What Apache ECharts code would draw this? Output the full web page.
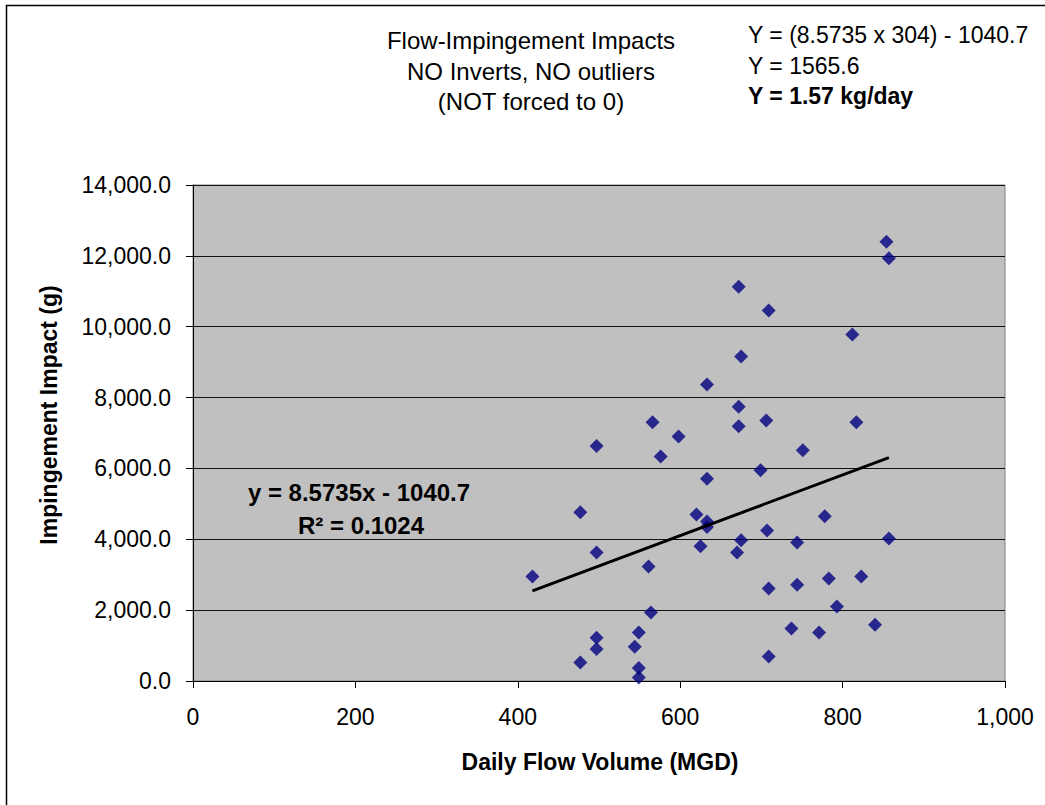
<!DOCTYPE html>
<html>
<head>
<meta charset="utf-8">
<script src="https://cdn.jsdelivr.net/npm/echarts@6/dist/echarts.min.js"></script>
<style>
html,body{margin:0;padding:0;background:#fff;}
#chart{width:1045px;height:805px;}
</style>
</head>
<body>
<div id="chart"></div>
<script>
// Daily flow volume (MGD)
const flowMGD = [418,477,477,497,497,497,497,544,549,549,549,561,564,566,576,598,620,625,633,633,633,633,670,672,672,672,675,675,699,706,707,709,709,709,737,744,744,751,771,778,783,793,812,817,823,840,854,857,857];
// Impingement impact (g)
const impactG = [2950,4760,520,6630,3630,1220,900,970,1370,370,100,3230,1930,7300,6340,6900,4700,3800,8370,5710,4500,4350,3630,11130,7740,7190,9160,3970,5950,7350,4250,10460,2610,690,1480,3910,2720,6510,1370,4650,2890,2100,9780,7300,2950,1590,12400,11930,4020];
// Linear trendline (as printed on chart)
const trendSlope = 8.5735;
const trendIntercept = -1040.7;
const xTicks = [0,200,400,600,800,1000];
const yTicks = [0,2000,4000,6000,8000,10000,12000,14000];

const titleLines = ['Flow-Impingement Impacts','NO Inverts, NO outliers','(NOT forced to 0)'];
const calcLines = ['Y = (8.5735 x 304) - 1040.7','Y = 1565.6','Y = 1.57 kg/day'];

const points = flowMGD.map((x,i)=>[x, impactG[i]]);
const xMin = Math.min(...flowMGD), xMax = Math.max(...flowMGD);
const trend = [[xMin, trendSlope*xMin+trendIntercept],[xMax, trendSlope*xMax+trendIntercept]];

function fmt(v, d){
  const s = v.toFixed(d);
  const parts = s.split('.');
  parts[0] = parts[0].replace(/\B(?=(\d{3})+(?!\d))/g, ',');
  return parts.join('.');
}

const FONT = '"Liberation Sans", Arial, sans-serif';
const chart = echarts.init(document.getElementById('chart'), null, {renderer:'svg'});
chart.setOption({
  animation:false,
  backgroundColor:'#ffffff',
  grid:{left:193, top:185, width:812, height:496, show:true, backgroundColor:'#c0c0c0', borderColor:'#808080', borderWidth:1},
  xAxis:{
    type:'value', min:xTicks[0], max:xTicks[xTicks.length-1], interval:200,
    axisLine:{show:true, onZero:false, lineStyle:{color:'#000', width:1}},
    axisTick:{show:true, inside:false, length:7, lineStyle:{color:'#000'}},
    axisLabel:{margin:24, color:'#000', fontFamily:FONT, fontSize:23, formatter:v=>fmt(v,0)},
    splitLine:{show:false}
  },
  yAxis:{
    type:'value', min:yTicks[0], max:yTicks[yTicks.length-1], interval:2000,
    axisLine:{show:true, onZero:false, lineStyle:{color:'#000', width:1}},
    axisTick:{show:true, inside:false, length:7, lineStyle:{color:'#000'}},
    axisLabel:{margin:22, color:'#000', fontFamily:FONT, fontSize:23, formatter:v=>fmt(v,1)},
    splitLine:{show:true, lineStyle:{color:'#111', width:1}}
  },
  series:[
    {type:'scatter', data:points, symbol:'diamond', symbolSize:[14,14], itemStyle:{color:'#000080'}, z:3},
    {type:'line', data:trend, symbol:'none', lineStyle:{color:'#000', width:3}, z:4}
  ],
  graphic:[
    {type:'rect', left:4, top:3, shape:{x:0,y:0,width:1100,height:900}, style:{fill:'none', stroke:'#000', lineWidth:1.5}, silent:true, z:-1},
    {type:'text', x:531, y:40, style:{text:titleLines[0], fontFamily:FONT, fontSize:24, fill:'#000', align:'center', verticalAlign:'middle'}},
    {type:'text', x:531, y:71, style:{text:titleLines[1], fontFamily:FONT, fontSize:24, fill:'#000', align:'center', verticalAlign:'middle'}},
    {type:'text', x:531, y:101, style:{text:titleLines[2], fontFamily:FONT, fontSize:24, fill:'#000', align:'center', verticalAlign:'middle'}},
    {type:'text', x:748, y:35, style:{text:calcLines[0], fontFamily:FONT, fontSize:23, fill:'#000', align:'left', verticalAlign:'middle'}},
    {type:'text', x:748, y:66, style:{text:calcLines[1], fontFamily:FONT, fontSize:23, fill:'#000', align:'left', verticalAlign:'middle'}},
    {type:'text', x:748, y:96, style:{text:calcLines[2], fontFamily:FONT, fontSize:23, fontWeight:'bold', fill:'#000', align:'left', verticalAlign:'middle'}},
    {type:'text', x:359, y:492, z:10, style:{text:'y = ' + trendSlope + 'x - ' + Math.abs(trendIntercept), fontFamily:FONT, fontSize:24, fontWeight:'bold', fill:'#000', align:'center', verticalAlign:'middle'}},
    {type:'text', x:361, y:525, z:10, style:{text:'R² = 0.1024', fontFamily:FONT, fontSize:24, fontWeight:'bold', fill:'#000', align:'center', verticalAlign:'middle'}},
    {type:'text', x:600, y:762, style:{text:'Daily Flow Volume (MGD)', fontFamily:FONT, fontSize:23, fontWeight:'bold', fill:'#000', align:'center', verticalAlign:'middle'}},
    {type:'text', x:49, y:415, rotation:Math.PI/2, style:{text:'Impingement Impact (g)', fontFamily:FONT, fontSize:23, fontWeight:'bold', fill:'#000', align:'center', verticalAlign:'middle'}}
  ]
});
</script>
</body>
</html>
